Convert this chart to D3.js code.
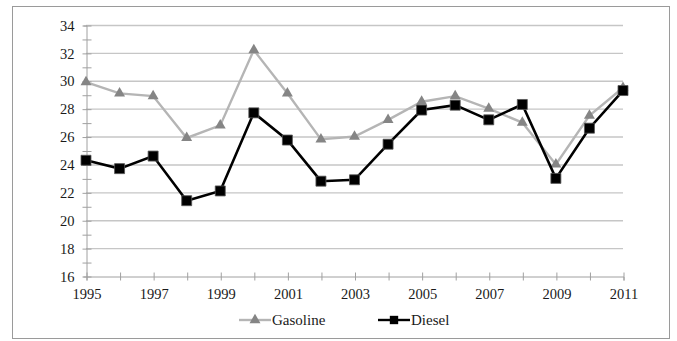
<!DOCTYPE html>
<html>
<head>
<meta charset="utf-8">
<script src="https://cdn.jsdelivr.net/npm/d3@7"></script>
<style>
  html, body { margin: 0; padding: 0; background: #fff; }
  svg { display: block; }
  text { font-family: "Liberation Serif", "Times New Roman", serif; fill: #1a1a1a; }
</style>
</head>
<body>
<svg id="chart" width="677" height="341"></svg>
<script>
// Annual values, 1995–2011
const years = [1995, 1996, 1997, 1998, 1999, 2000, 2001, 2002, 2003, 2004, 2005, 2006, 2007, 2008, 2009, 2010, 2011];
const gasoline = [29.9, 29.1, 28.9, 25.9, 26.8, 32.2, 29.1, 25.8, 26.0, 27.2, 28.5, 28.9, 28.0, 27.0, 24.0, 27.5, 29.5];
const diesel = [24.3, 23.7, 24.6, 21.4, 22.1, 27.7, 25.75, 22.8, 22.9, 25.45, 27.9, 28.25, 27.2, 28.3, 23.0, 26.6, 29.3];
const yTicks = [16, 18, 20, 22, 24, 26, 28, 30, 32, 34];
const xTicks = [1995, 1997, 1999, 2001, 2003, 2005, 2007, 2009, 2011];
const seriesNames = ["Gasoline", "Diesel"];

(function draw() {
  const svg = d3.select("#chart");
  const serif = "'Liberation Serif', 'Times New Roman', serif";

  // Outer frame
  svg.append("rect")
    .attr("x", 12.5).attr("y", 6.5)
    .attr("width", 657).attr("height", 332)
    .attr("fill", "#fff").attr("stroke", "#9a9a9a").attr("stroke-width", 1);

  const plotLeft = 86, plotRight = 623, plotTop = 25, plotBottom = 276;

  const x = d3.scaleLinear().domain([1995, 2011]).range([plotLeft, plotRight]);
  const y = d3.scaleLinear().domain([16, 34]).range([plotBottom, plotTop]);

  // Horizontal gridlines
  svg.append("g")
    .selectAll("line")
    .data(yTicks.filter(v => v > 16))
    .join("line")
    .attr("x1", plotLeft).attr("x2", plotRight)
    .attr("y1", d => y(d) + 0.5).attr("y2", d => y(d) + 0.5)
    .attr("stroke", "#c6c6c6").attr("stroke-width", 1.4);

  // Y axis with minor ticks at every unit
  const yAxis = d3.axisLeft(y)
    .tickValues(d3.range(16, 35, 1))
    .tickSize(3)
    .tickFormat(d => yTicks.includes(d) ? d : "");
  const gy = svg.append("g")
    .attr("transform", `translate(${plotLeft + 0.5},0.5)`)
    .call(yAxis)
    .attr("font-family", serif)
    .attr("font-size", 14.5);
  gy.select(".domain").attr("stroke", "#a0a0a0");
  gy.selectAll(".tick line").attr("stroke", "#a0a0a0").attr("x2", -4).attr("x1", 5);
  gy.selectAll(".tick text")
    .attr("x", -12)
    .style("font-family", serif)
    .style("font-size", "14.5px")
    .attr("fill", "#1a1a1a");

  // X axis with ticks at every year
  const xAxis = d3.axisBottom(x)
    .tickValues(years)
    .tickSize(4)
    .tickFormat(d => xTicks.includes(d) ? d : "");
  const gx = svg.append("g")
    .attr("transform", `translate(0.5,${plotBottom + 0.5})`)
    .call(xAxis)
    .attr("font-family", serif)
    .attr("font-size", 14.5);
  gx.select(".domain").attr("stroke", "#a0a0a0");
  gx.selectAll(".tick line").attr("stroke", "#a0a0a0").attr("y1", -4).attr("y2", 4);
  gx.selectAll(".tick text")
    .attr("y", 12)
    .style("font-family", serif)
    .style("font-size", "14.5px")
    .attr("fill", "#1a1a1a");

  const line = d3.line().x((d, i) => x(years[i])).y(d => y(d));

  const tri = d3.symbol().type(d3.symbolTriangle).size(52);
  const sq = d3.symbol().type(d3.symbolSquare).size(100);
  const sqSmall = d3.symbol().type(d3.symbolSquare).size(70);

  // Gasoline series
  svg.append("path")
    .datum(gasoline)
    .attr("d", line)
    .attr("fill", "none").attr("stroke", "#b5b5b5").attr("stroke-width", 2.4);
  svg.append("g")
    .selectAll("path")
    .data(gasoline)
    .join("path")
    .attr("d", tri)
    .attr("transform", (d, i) => `translate(${x(years[i])},${y(d)})`)
    .attr("fill", "#858585");

  // Diesel series
  svg.append("path")
    .datum(diesel)
    .attr("d", line)
    .attr("fill", "none").attr("stroke", "#000").attr("stroke-width", 2.6);
  svg.append("g")
    .selectAll("path")
    .data(diesel)
    .join("path")
    .attr("d", sq)
    .attr("transform", (d, i) => `translate(${x(years[i])},${y(d)})`)
    .attr("fill", "#000").attr("stroke", "#555").attr("stroke-width", 0.8);

  // Legend
  const legend = svg.append("g").attr("transform", "translate(0,320)");
  const items = [
    { name: seriesNames[0], x0: 239, stroke: "#b5b5b5", sym: tri, fill: "#858585" },
    { name: seriesNames[1], x0: 378, stroke: "#000", sym: sqSmall, fill: "#000" }
  ];
  items.forEach(it => {
    legend.append("line")
      .attr("x1", it.x0).attr("x2", it.x0 + 32)
      .attr("y1", 0).attr("y2", 0)
      .attr("stroke", it.stroke).attr("stroke-width", 2.4);
    legend.append("path")
      .attr("d", it.sym())
      .attr("transform", `translate(${it.x0 + 16},0)`)
      .attr("fill", it.fill);
    legend.append("text")
      .attr("x", it.x0 + 33).attr("y", 5)
      .style("font-size", "15px")
      .text(it.name);
  });
})();
</script>
</body>
</html>
